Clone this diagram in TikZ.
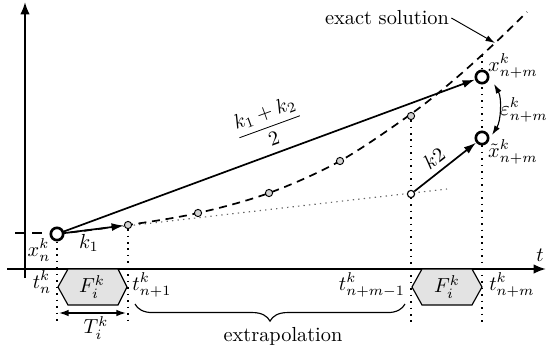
\documentclass[tikz,border=0pt]{standalone}
\usetikzlibrary{arrows.meta,decorations.pathreplacing,backgrounds}
\begin{document}
\begin{tikzpicture}[x=0.526pt,y=-0.526pt,
  axis/.style={line width=1.1pt,-{Latex[length=6.5pt,width=5pt]}},
  arr/.style={line width=0.9pt,-{Latex[length=6.5pt,width=4.2pt]}},
  bigpt/.style={circle,draw,line width=1.4pt,fill=white,inner sep=0pt,minimum size=6.5pt},
  smallpt/.style={circle,draw,line width=0.5pt,fill=gray!35,inner sep=0pt,minimum size=3.8pt},
  smallw/.style={circle,draw,line width=0.6pt,fill=white,inner sep=0pt,minimum size=3.8pt},
  vdot/.style={line width=0.6pt,dash pattern=on 0.8pt off 2.6pt},
  gdot/.style={line width=0.6pt,gray!80!black,dash pattern=on 0.7pt off 2.2pt},
  exact/.style={line width=0.9pt,dash pattern=on 4.2pt off 3pt},
  hexa/.style={draw,line width=0.6pt,fill=gray!22},
  lbl/.style={inner sep=1pt,scale=1.07}]
\useasboundingbox (0,0) rectangle (548,349);

% points
\node[bigpt] (xn) at (57,234) {};
\node[smallpt] (p1) at (128,225) {};
\node[smallpt] (p2) at (198,213) {};
\node[smallpt] (p3) at (269,193) {};
\node[smallpt] (p4) at (340,161) {};
\node[smallpt] (p5) at (411,116) {};
\node[smallw] (q) at (411,194) {};
\node[bigpt] (xm) at (482,77) {};
\node[bigpt] (xt) at (482,138) {};

\coordinate (gend) at (447,189);
\coordinate (b1) at (57,323);
\coordinate (b2) at (128,323);
\coordinate (b3) at (411,323);
\coordinate (b4) at (482,323);
\coordinate (top4) at (482,55);

\begin{scope}[on background layer]
  % axes
  \draw[axis] (7,269) -- (546,269);
  \draw[axis] (25,278) -- (25,2);
  \draw[line width=0.6pt] (15,233) -- (24,233) (32,233) -- (42,233);
  % vertical dotted lines
  \draw[vdot] (xn) -- (b1);
  \draw[vdot] (p1) -- (b2);
  \draw[vdot] (p5) -- (b3);
  \draw[vdot] (top4) -- (b4);
  % linear extrapolation (dotted)
  \draw[gdot] (xn.center) -- (gend);
  % exact solution (dashed)
  \draw[exact] plot[smooth,tension=0.55] coordinates
    {(57,234) (128,225) (198,213) (269,193) (340,161) (411,114) (455,79) (495,43) (527,12)};
  % hexagons
  \draw[hexa] (58,287) -- (68,269) -- (118,269) -- (127,287) -- (118,305) -- (68,305) -- cycle;
  \draw[hexa] (412,287) -- (422,269) -- (472,269) -- (482,287) -- (472,305) -- (422,305) -- cycle;
\end{scope}

\node[lbl] (F1) at (92,287) {$F_i^k$};
\node[lbl] (F2) at (447,287) {$F_i^k$};
\node[lbl] (tlab) at (540,255) {$t$};

% arrows
\draw[arr] (xn) -- (p1);
\draw[arr] (xn) -- (xm);
\draw[arr] (q) -- (xt);

% labels
\node[lbl] (lxn) at (39,250) {$x_n^k$};
\node[lbl] (lk1) at (89,243) {$k_1$};
\node[lbl] (ltn) at (42,282) {$t_n^k$};
\node[lbl] (ltn1) at (152,285) {$t_{n+1}^k$};
\node[lbl] (ltnm1) at (372,285) {$t_{n+m-1}^k$};
\node[lbl] (ltnm) at (512,285) {$t_{n+m}^k$};
\node[lbl] (lxm) at (513,66) {$x_{n+m}^k$};
\node[lbl] (lxt) at (513,152) {$\tilde{x}_{n+m}^k$};
\node[lbl] (leps) at (524,110) {$\varepsilon_{n+m}^k$};
\node[lbl,rotate=20] (lfrac) at (269,125) {$\displaystyle\frac{k_1+k_2}{2}$};
\node[lbl,rotate=38] (lk2) at (434,158) {$k2$};
\node[lbl] (lexact) at (387,18) {exact solution};
\node[lbl] (lext) at (283,336) {extrapolation};
\node[lbl] (lT) at (96,328) {$T_i^k$};

% exact solution pointer
\coordinate (ep) at (495,43);
\draw[line width=0.5pt,-{Latex[length=5pt,width=3.2pt]}] (lexact.east) -- (ep);

% epsilon arrow
\coordinate (e1) at (494,84);
\coordinate (e2) at (492,135);
\draw[line width=0.6pt,{Latex[length=5pt,width=3.2pt]}-{Latex[length=5pt,width=3.2pt]}]
  (e1) .. controls (502,98) and (501,121) .. (e2);

% T arrow
\coordinate (T1) at (59,313);
\coordinate (T2) at (126,313);
\draw[line width=0.7pt,{Latex[length=5pt,width=3.4pt]}-{Latex[length=5pt,width=3.4pt]}] (T1) -- (T2);

% brace
\coordinate (br1) at (135,304);
\coordinate (br2) at (405,304);
\draw[line width=0.6pt,decorate,decoration={brace,mirror,amplitude=9pt}] (br1) -- (br2);
\end{tikzpicture}
\end{document}
